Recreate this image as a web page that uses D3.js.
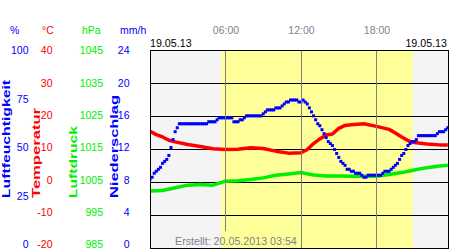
<!DOCTYPE html>
<html><head><meta charset="utf-8">
<script src="https://cdn.jsdelivr.net/npm/d3@7"></script>
<style>body{margin:0;background:#fff}svg{display:block;font-family:"Liberation Sans",Arial,sans-serif}</style>
</head><body><svg id="c" width="450" height="250"></svg>
<script>
// humidity (%) every 10 minutes from 00:00
const humidity = [35,36,38,39,40,41,43,44,45,47,51,55,59,61,63,63,63,63,63,63,63,63,63,63,63,63,63,63,64,64,
64,64,65,66,66,66,66,66,66,66,64,64,64,65,65,66,67,67,67,67,67,67,67,67,68,69,70,70,70,70,
71,71,71,72,73,74,74,75,75,75,75,74,74,75,74,73,71,69,67,65,63,62,60,58,56,54,53,52,50,48,
46,44,43,42,40,40,39,39,38,38,38,37,36,36,37,37,37,37,37,37,37,38,39,39,39,40,41,42,43,45,
47,48,50,52,53,54,54,55,57,57,57,57,57,57,57,57,57,58,59,59,59,60,61];
const humStepHours = 1/6;
const tempTimes = [0,0.5,1,1.5,2,3,4,5,6,7,8,9,10,11,12,12.5,13,13.5,14,14.5,15,15.5,16,17,18,19,19.5,20,20.5,21,22,23,23.67];
const temperature = [15.5,14.5,13.8,12.8,12.3,11.5,10.9,10.2,10.0,10.1,10.5,10.3,9.5,8.9,9.0,10.0,11.8,13.2,14.4,14.7,16.4,17.3,17.5,17.8,17.0,16.1,15.0,13.8,12.7,12.1,11.7,11.4,11.4];
const pressTimes = [0,1,2,3,4,5,5.5,6,7,8,9,10,11,12,13,14,15,16,17,18,19,20,21,22,23,23.67];
const pressure = [1002.4,1002.6,1003.4,1004.2,1004.4,1004.2,1004.8,1005.4,1005.5,1005.9,1006.4,1007.2,1007.6,1008.0,1007.3,1007.0,1007.0,1006.9,1006.9,1006.9,1007.4,1008.0,1008.8,1009.5,1010.0,1010.2];
const humTicks = [0,25,50,75,100];
const tempTicks = [-20,-10,0,10,20,30,40];
const pressTicks = [985,995,1005,1015,1025,1035,1045];
const precipTicks = [0,4,8,12,16,20,24];
const hourTicks = [6,12,18];
const hourLabels = ["06:00","12:00","18:00"];
const sunrise = 5.67, sunset = 20.88;
const dateLabel = "19.05.13";
const createdLabel = "Erstellt: 20.05.2013 03:54";
const unitLabels = ["%","°C","hPa","mm/h"];
const titles = ["Luftfeuchtigkeit","Temperatur","Luftdruck","Niederschlag"];

const BLUE="#0000ff", RED="#ff0000", GREEN="#00ee00", GRAY="#7f7f8f";
const svg = d3.select("#c");
const L=150, T=50, R=448, B=248;
const x = d3.scaleLinear([0,24],[150,452]);
const yH = d3.scaleLinear([0,100],[B+0.5,T+0.5]);
const yT = d3.scaleLinear([-20,40],[B+0.5,T+0.5]);
const yP = d3.scaleLinear([985,1045],[B+0.5,T+0.5]);
const crisp = v => Math.round(v-0.5)+0.5;

svg.append("defs").html(`<clipPath id="pc"><rect x="${L}" y="${T}" width="${R-L}" height="${B-T}"/></clipPath>
<clipPath id="cb"><rect x="172" y="231" width="127" height="17"/></clipPath>`);

function background(g){
  g.append("rect").attr("x",L).attr("y",T).attr("width",R-L).attr("height",B-T).attr("fill","#f4f4f4");
  g.append("rect").attr("x",x(sunrise)).attr("y",T).attr("width",x(sunset)-x(sunrise)).attr("height",B-T).attr("fill","#ffff99");
}
background(svg.append("g"));

// horizontal grid
svg.append("g").selectAll("line").data(tempTicks.slice(1,-1)).join("line")
  .attr("x1",L).attr("x2",R).attr("y1",d=>crisp(yT(d))).attr("y2",d=>crisp(yT(d)))
  .attr("stroke","#000").attr("stroke-width",1);

const data = svg.append("g").attr("clip-path","url(#pc)");
const tempData = tempTimes.map((t,i)=>({t,v:temperature[i]}));
const pressData = pressTimes.map((t,i)=>({t,v:pressure[i]}));
data.append("path").datum(pressData).attr("fill","none").attr("stroke",GREEN).attr("stroke-width",3.5)
  .attr("stroke-linejoin","round").attr("d",d3.line().x(d=>x(d.t)).y(d=>yP(d.v)));
data.append("path").datum(tempData).attr("fill","none").attr("stroke",RED).attr("stroke-width",3.5)
  .attr("stroke-linejoin","round").attr("d",d3.line().x(d=>x(d.t)).y(d=>yT(d.v)));
data.append("g").selectAll("rect").data(humidity).join("rect")
  .attr("x",(d,i)=>x(i*humStepHours)-1.5).attr("y",d=>yH(d)-1.5).attr("width",3).attr("height",3).attr("fill",BLUE);

// vertical grid
svg.append("g").selectAll("line").data(hourTicks).join("line")
  .attr("x1",d=>crisp(x(d))).attr("x2",d=>crisp(x(d))).attr("y1",T).attr("y2",B)
  .attr("stroke","#808080").attr("stroke-width",1);

// created box
background(svg.append("g").attr("clip-path","url(#cb)"));
svg.append("text").attr("x",175).attr("y",245).attr("font-size","10.7px").attr("fill",GRAY).text(createdLabel);

// frame
svg.append("rect").attr("x",L+0.5).attr("y",T+0.5).attr("width",R-L).attr("height",B-T)
  .attr("fill","none").attr("stroke","#000").attr("stroke-width",1);

// top labels
svg.append("text").attr("x",150).attr("y",47).attr("font-size","10.7px").attr("fill","#000").text(dateLabel);
svg.append("text").attr("x",447).attr("y",47).attr("text-anchor","end").attr("font-size","10.7px").attr("fill","#000").text(dateLabel);
const xa = svg.append("g").attr("transform","translate(0,33.5)")
  .call(d3.axisTop(x).tickValues(hourTicks).tickFormat((d,i)=>hourLabels[i]).tickSize(0).tickPadding(0));
xa.select(".domain").remove();
xa.attr("font-family",null);
xa.selectAll("text").attr("fill",GRAY).attr("font-size","10.5px");

// left axes labels
function labelAxis(domain, ticks, xpos, color){
  const s = d3.scaleLinear(domain,[244.6,50.6]);
  const g = svg.append("g").attr("transform",`translate(${xpos},0)`)
    .call(d3.axisLeft(s).tickValues(ticks).tickFormat(d=>String(d)).tickSize(0).tickPadding(0));
  g.select(".domain").remove();
  g.attr("font-family",null);
  g.selectAll("text").attr("fill",color).attr("font-size","10.5px");
}
labelAxis([0,100],humTicks,28.5,BLUE);
labelAxis([-20,40],tempTicks,52.5,RED);
labelAxis([985,1045],pressTicks,103,GREEN);
labelAxis([0,24],precipTicks,129.5,BLUE);

const unitX=[10,42,82,120], unitC=[BLUE,RED,GREEN,BLUE];
unitLabels.forEach((u,i)=>svg.append("text").attr("x",unitX[i]).attr("y",33.5).attr("font-size","10.5px").attr("fill",unitC[i]).text(u));

const titleX=[9.5,39.5,76.5,117.5], titleLen=[118,90,72,103];
titles.forEach((t,i)=>svg.append("text").attr("transform",`translate(${titleX[i]},198) rotate(-90)`)
  .attr("font-size","11px").attr("font-weight","bold").attr("fill",unitC[i])
  .attr("textLength",titleLen[i]).attr("lengthAdjust","spacingAndGlyphs").text(t));
</script></body></html>
